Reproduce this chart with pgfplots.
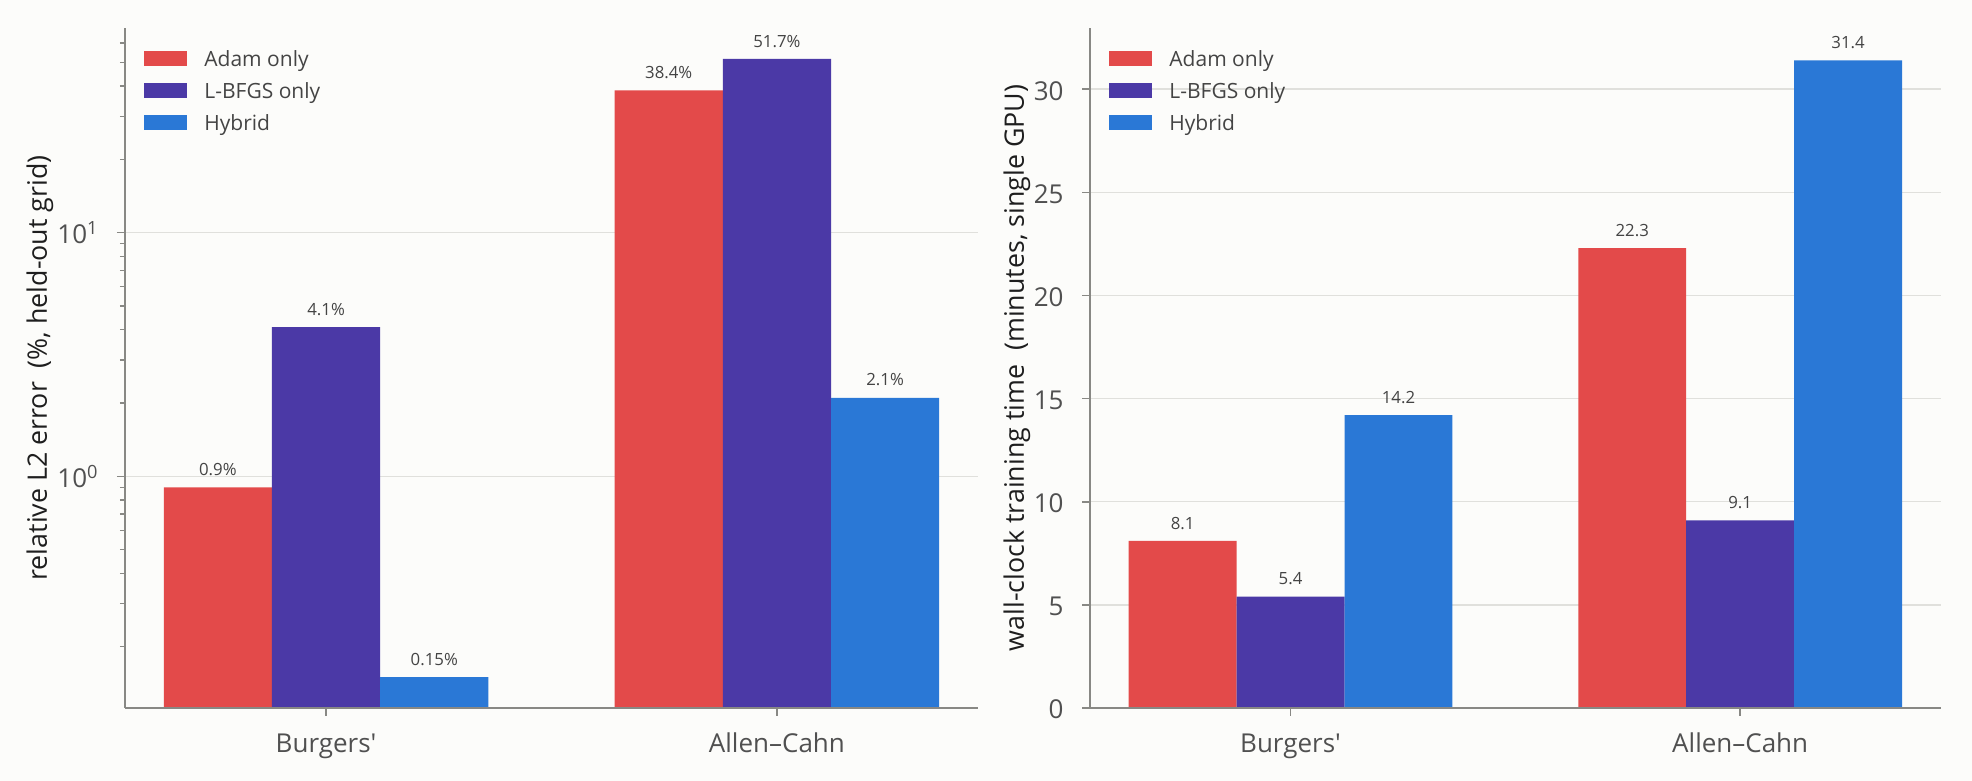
\documentclass[border=0pt]{standalone}
\usepackage{pgfplots}
\pgfplotsset{compat=1.18}
\usepackage{fontspec}
\setmainfont{Open Sans}

\definecolor{bg}{RGB}{252,252,250}
\definecolor{cAdam}{RGB}{227,74,74}
\definecolor{cLbfgs}{RGB}{75,57,166}
\definecolor{cHyb}{RGB}{42,120,214}
\definecolor{gridc}{RGB}{224,224,220}
\definecolor{spine}{RGB}{136,136,132}
\definecolor{ticktext}{RGB}{80,80,80}
\definecolor{labtext}{RGB}{30,30,30}
\definecolor{valtext}{RGB}{68,68,68}

\pgfplotsset{
  panel/.style={
    scale only axis,
    anchor=south west,
    height=340pt,
    axis lines=left,
    axis line style={-, draw=spine, line width=1pt},
    ybar=0pt, bar width=0.24,
    xmin=-0.446, xmax=1.446,
    xtick={0,1},
    xticklabels={Burgers\textquotesingle, Allen--Cahn},
    tick align=outside,
    major tick length=4pt,
    minor tick length=2.5pt,
    tick style={draw=spine, line width=0.8pt},
    minor tick style={line width=0.6pt},
    ymajorgrids,
    grid style={draw=gridc, line width=0.75pt},
    tick label style={font=\fontsize{13}{15}\selectfont, text=ticktext},
    xticklabel style={anchor=base, inner sep=0pt, yshift=-18.5pt},
    yticklabel style={anchor=base east, inner sep=0pt, xshift=-9pt, yshift=-5.5pt},
    /pgf/number format/assume math mode=true,
    point meta=explicit symbolic,
    every node near coord/.append style={anchor=south, inner sep=0pt, yshift=5.6pt,
      font=\fontsize{8.4}{10}\selectfont, text=valtext},
    legend style={at={(rel axis cs:0,1)}, anchor=north west, xshift=9.5pt, yshift=-10.85pt,
      draw=none, fill=none, inner sep=0pt, row sep=6.6pt,
      font=\fontsize{10.5}{12}\selectfont, text=valtext,
      nodes={inner sep=0pt},
      cells={anchor=base west},
      /tikz/every odd column/.append style={column sep=8.5pt}},
    clip=false,
  },
  patch/.style={draw=none, fill=#1,
    legend image code/.code={\fill[#1] (0pt,0pt) rectangle (21.5pt,7.5pt);}},
}

\begin{document}
\begin{tikzpicture}
\useasboundingbox (0,0) rectangle (986pt,390.5pt);
\fill[bg] (0,0) rectangle (986pt,390.5pt);

% left panel: relative L2 error, log scale
\begin{axis}[panel,
  at={(62.5pt,36.5pt)}, width=426.5pt,
  ymode=log, log origin=infty,
  ymin=0.112, ymax=69.2,
  ytick={1,10},
  yticklabels={10\textsuperscript{0},10\textsuperscript{1}},
  minor ytick={0.2,0.3,0.4,0.5,0.6,0.7,0.8,0.9,2,3,4,5,6,7,8,9,20,30,40,50,60},
  nodes near coords={\pgfplotspointmeta\%},
]
\addplot[patch=cAdam, bar shift=-0.24] coordinates {(0,0.9) [0.9] (1,38.4) [38.4]};
\addlegendentry{Adam only}
\addplot[patch=cLbfgs, bar shift=0] coordinates {(0,4.1) [4.1] (1,51.7) [51.7]};
\addlegendentry{L-BFGS only}
\addplot[patch=cHyb, bar shift=0.24] coordinates {(0,0.15) [0.15] (1,2.1) [2.1]};
\addlegendentry{Hybrid}
\draw[spine, line width=1pt] (rel axis cs:0,0) -- (rel axis cs:1,0);
\end{axis}

% right panel: wall-clock time
\begin{axis}[panel,
  at={(545pt,36.5pt)}, width=425.35pt,
  ymin=0, ymax=32.97,
  ytick={0,5,...,30},
  nodes near coords={\pgfplotspointmeta},
]
\addplot[patch=cAdam, bar shift=-0.24] coordinates {(0,8.1) [8.1] (1,22.3) [22.3]};
\addlegendentry{Adam only}
\addplot[patch=cLbfgs, bar shift=0] coordinates {(0,5.4) [5.4] (1,9.1) [9.1]};
\addlegendentry{L-BFGS only}
\addplot[patch=cHyb, bar shift=0.24] coordinates {(0,14.2) [14.2] (1,31.4) [31.4]};
\addlegendentry{Hybrid}
\draw[spine, line width=1pt] (rel axis cs:0,0) -- (rel axis cs:1,0);
\end{axis}

% axis titles
\node[rotate=90, anchor=north, inner sep=0pt, text=labtext, font=\fontsize{13.4}{15}\selectfont]
  at (13pt,206.5pt) {relative L2 error\ \ (\%, held-out grid)};
\node[rotate=90, anchor=north, inner sep=0pt, text=labtext, font=\fontsize{13.4}{15}\selectfont]
  at (501.5pt,206.5pt) {wall-clock training time\ \ (minutes, single GPU)};
\end{tikzpicture}
\end{document}
